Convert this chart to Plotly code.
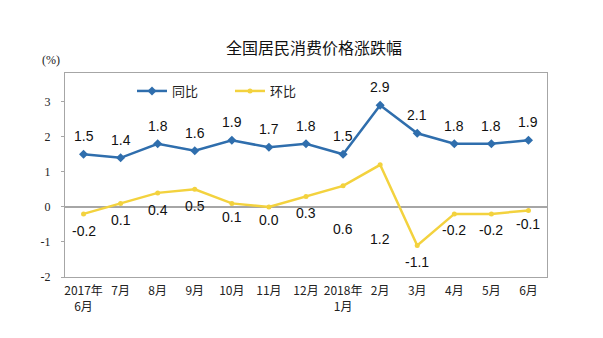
import plotly.graph_objects as go

categories = ["2017年<br>6月", "7月", "8月", "9月", "10月", "11月", "12月", "2018年<br>1月",
              "2月", "3月", "4月", "5月", "6月"]
yoy = [1.5, 1.4, 1.8, 1.6, 1.9, 1.7, 1.8, 1.5, 2.9, 2.1, 1.8, 1.8, 1.9]
mom = [-0.2, 0.1, 0.4, 0.5, 0.1, 0.0, 0.3, 0.6, 1.2, -1.1, -0.2, -0.2, -0.1]
yoy_name = "同比"
mom_name = "环比"
title = "全国居民消费价格涨跌幅"
y_ticks = [-2, -1, 0, 1, 2, 3]
y_ticktext = ["-2", "-1", "0", "1", "2", "3"]

# label pixel offsets (style)
mom_label_shift = [-17, -17, -17, -17, -14, -13, -17, -43, -74, -17, -16, -16, -14]

BLUE = "#2F6EAD"
YELLOW = "#F3D23E"

W, H = 603, 338
L, R, T, B = 65, 56, 73, 61
PW, PH = W - L - R, H - T - B


def px_to_paper(px, py):
    return (px - L) / PW, (H - B - py) / PH


x_idx = list(range(len(categories)))

fig = go.Figure()
fig.add_trace(go.Scatter(x=x_idx, y=yoy, name=yoy_name, mode="lines+markers",
                         line=dict(color=BLUE, width=2.5),
                         marker=dict(symbol="diamond", size=7, color=BLUE)))
fig.add_trace(go.Scatter(x=x_idx, y=mom, name=mom_name, mode="lines+markers",
                         line=dict(color=YELLOW, width=2.5),
                         marker=dict(symbol="circle", size=5, color=YELLOW)))

label_font = dict(family="Liberation Sans, Arial, sans-serif", size=14, color="#111111")
for i, v in enumerate(yoy):
    fig.add_annotation(x=i, y=v, text=f"{v:.1f}", showarrow=False, yshift=18,
                       font=label_font, yanchor="middle")
for i, v in enumerate(mom):
    fig.add_annotation(x=i, y=v, text=f"{v:.1f}", showarrow=False, yshift=mom_label_shift[i],
                       font=label_font, yanchor="middle")

ux, uy = px_to_paper(51, 60)
fig.add_annotation(x=ux, y=uy, xref="paper", yref="paper", text="(%)",
                   showarrow=False, font=dict(family="Liberation Serif, serif", size=12, color="#222"),
                   xanchor="center", yanchor="middle")

lx, ly = px_to_paper(132, 91)
fig.update_layout(
    width=W, height=H,
    margin=dict(l=L, r=R, t=T, b=B),
    paper_bgcolor="white", plot_bgcolor="white",
    title=dict(text=title, x=314 / W, xanchor="center", y=1 - 48 / H, yanchor="middle",
               font=dict(family="Noto Sans CJK SC", size=16, color="#111")),
    showlegend=True,
    legend=dict(orientation="h", x=lx, y=ly, xanchor="left", yanchor="middle",
                font=dict(family="Noto Sans CJK SC", size=13, color="#222"),
                bgcolor="rgba(0,0,0,0)", entrywidth=53, entrywidthmode="pixels",
                itemwidth=30),
)

fig.update_xaxes(range=[-0.5, 12.5], tickmode="array", tickvals=x_idx, ticktext=categories,
                 showgrid=False, zeroline=False, showline=True, linecolor="#A6A6A6", linewidth=1,
                 mirror=True, ticks="", tickangle=0, ticklabelstandoff=3,
                 tickfont=dict(family="Noto Sans CJK SC, Liberation Serif", size=12, color="#222"))
fig.update_yaxes(range=[-2, 3.82], tickmode="array", tickvals=y_ticks, ticktext=y_ticktext,
                 showgrid=False, zeroline=True, zerolinecolor="#A6A6A6", zerolinewidth=1.5,
                 showline=True, linecolor="#A6A6A6", linewidth=1, mirror=True,
                 ticks="outside", ticklen=3, tickcolor="#A6A6A6", ticklabelstandoff=8,
                 tickfont=dict(family="Liberation Serif, serif", size=12, color="#222"))

fig.write_html("out.html")
